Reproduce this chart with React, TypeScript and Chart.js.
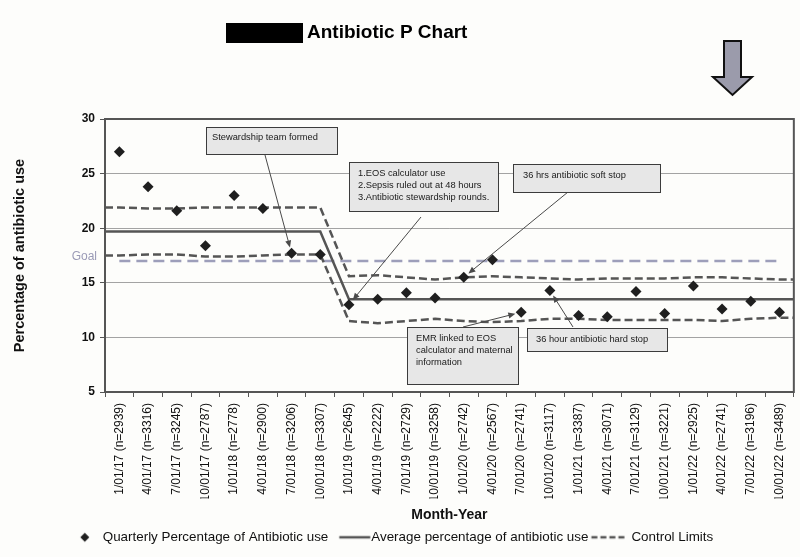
import React, { useEffect, useRef } from 'react';
import { Chart, registerables } from 'chart.js';

Chart.register(...registerables);

// ---------------- DATA ----------------
const categories = [
  '1/01/17 (n=2939)', '4/01/17 (n=3316)', '7/01/17 (n=3245)', '10/01/17 (n=2787)',
  '1/01/18 (n=2778)', '4/01/18 (n=2900)', '7/01/18 (n=3206)', '10/01/18 (n=3307)',
  '1/01/19 (n=2645)', '4/01/19 (n=2222)', '7/01/19 (n=2729)', '10/01/19 (n=3258)',
  '1/01/20 (n=2742)', '4/01/20 (n=2567)', '7/01/20 (n=2741)', '10/01/20 (n=3117)',
  '1/01/21 (n=3387)', '4/01/21 (n=3071)', '7/01/21 (n=3129)', '10/01/21 (n=3221)',
  '1/01/22 (n=2925)', '4/01/22 (n=2741)', '7/01/22 (n=3196)', '10/01/22 (n=3489)',
];

const quarterlyPct = [
  27.0, 23.8, 21.6, 18.4, 23.0, 21.8, 17.7, 17.6,
  13.0, 13.5, 14.1, 13.6, 15.5, 17.1, 12.3, 14.3,
  12.0, 11.9, 14.2, 12.2, 14.7, 12.6, 13.3, 12.3,
];

const averagePct = [
  19.7, 19.7, 19.7, 19.7, 19.7, 19.7, 19.7, 19.7,
  13.5, 13.5, 13.5, 13.5, 13.5, 13.5, 13.5, 13.5,
  13.5, 13.5, 13.5, 13.5, 13.5, 13.5, 13.5, 13.5,
];

const upperLimit = [
  21.9, 21.8, 21.8, 21.9, 21.9, 21.9, 21.9, 21.9,
  15.6, 15.7, 15.5, 15.3, 15.5, 15.6, 15.5, 15.4,
  15.3, 15.4, 15.4, 15.4, 15.5, 15.5, 15.4, 15.3,
];

const lowerLimit = [
  17.5, 17.6, 17.6, 17.4, 17.4, 17.5, 17.6, 17.6,
  11.5, 11.3, 11.5, 11.7, 11.5, 11.4, 11.5, 11.7,
  11.7, 11.6, 11.6, 11.6, 11.6, 11.5, 11.7, 11.8,
];

const GOAL = 17;
const Y_MIN = 5;
const Y_MAX = 30;
const Y_STEP = 5;

const legendLabels = [
  'Quarterly Percentage of Antibiotic use',
  'Average percentage of antibiotic use',
  'Control Limits',
];

// ---------------- STYLE ----------------
const FONT = '"Liberation Sans", Arial, Helvetica, sans-serif';
const DARK = '#555555';
const POINT = '#1f1f1f';
const GOAL_COLOR = '#9d9eba';
const LEGEND_FONT = 13.4;
const LEGEND_BOX = 4.3;
const LEGEND_PAD = 32;

const annotations = [
  { lines: ['Stewardship team formed'], box: [206, 127, 131, 27], textX: 212, textY: [137], from: [265, 155], target: 6 },
  { lines: ['1.EOS calculator use', '2.Sepsis ruled out at 48 hours', '3.Antibiotic stewardship rounds.'], box: [349, 162, 149, 49], textX: 358, textY: [173, 185, 197], from: [421, 217], target: 8 },
  { lines: ['36 hrs antibiotic soft stop'], box: [513, 164, 147, 28], textX: 523, textY: [175], from: [568, 192], target: 12 },
  { lines: ['EMR linked to EOS', 'calculator and maternal', 'information'], box: [407, 327, 111, 57], textX: 416, textY: [338, 350, 362], from: [463, 327], target: 14 },
  { lines: ['36 hour antibiotic hard stop'], box: [527, 328, 140, 23], textX: 536, textY: [339], from: [573, 327], target: 15 },
];

const lastIdx = categories.length - 1;
function edgeLine(values: number[]) {
  const pts = values.map((y, i) => ({ x: i, y }));
  return [{ x: -0.5, y: values[0] }, ...pts, { x: lastIdx + 0.5, y: values[lastIdx] }];
}

function legendImage(kind: 'diamond' | 'line' | 'dash'): HTMLCanvasElement {
  const W = 90, H = 14;
  const c = document.createElement('canvas');
  c.width = W; c.height = H;
  const g = c.getContext('2d')!;
  const textLocal = W / 2 + LEGEND_BOX / 2 + LEGEND_FONT / 2;
  const cy = H / 2;
  if (kind === 'diamond') {
    const cx = textLocal - 18, r = 4.5;
    g.fillStyle = POINT;
    g.beginPath();
    g.moveTo(cx, cy - r); g.lineTo(cx + r, cy); g.lineTo(cx, cy + r); g.lineTo(cx - r, cy);
    g.closePath(); g.fill();
  } else {
    g.strokeStyle = DARK;
    g.lineWidth = 2.5;
    if (kind === 'dash') g.setLineDash([6, 3]);
    g.beginPath();
    const x0 = kind === 'line' ? textLocal - 32 : textLocal - 40;
    const x1 = kind === 'line' ? textLocal - 1 : textLocal - 6;
    g.moveTo(x0, cy); g.lineTo(x1, cy);
    g.stroke();
  }
  return c;
}

const decorPlugin = {
  id: 'decor',
  beforeDraw(chart: any) {
    const { ctx, width, height } = chart;
    ctx.save();
    ctx.fillStyle = '#fdfdfb';
    ctx.fillRect(0, 0, width, height);
    ctx.restore();
  },
  beforeDatasetsDraw(chart: any) {
    const { ctx, chartArea: a } = chart;
    ctx.save();
    ctx.strokeStyle = DARK;
    ctx.lineWidth = 2;
    ctx.strokeRect(a.left, a.top, a.right - a.left, a.bottom - a.top);
    ctx.restore();
  },
  afterDatasetsDraw(chart: any) {
    const { ctx, chartArea: a } = chart;
    const xs = chart.scales.x;
    const ys = chart.scales.y;
    ctx.save();

    // Goal label
    ctx.font = `12px ${FONT}`;
    ctx.fillStyle = '#9a9ab6';
    ctx.textAlign = 'right';
    ctx.textBaseline = 'middle';
    ctx.fillText('Goal', a.left - 8, ys.getPixelForValue(GOAL) - 4);

    // annotations
    for (const an of annotations) {
      const [bx, by, bw, bh] = an.box;
      const tx = xs.getPixelForValue(an.target);
      const ty = ys.getPixelForValue(quarterlyPct[an.target]);
      const [fx, fy] = an.from;
      const dx = tx - fx, dy = ty - fy;
      const len = Math.hypot(dx, dy);
      const ux = dx / len, uy = dy / len;
      const tipX = tx - ux * 6, tipY = ty - uy * 6;
      ctx.strokeStyle = '#4a4a4a';
      ctx.fillStyle = '#4a4a4a';
      ctx.lineWidth = 1;
      ctx.beginPath();
      ctx.moveTo(fx, fy);
      ctx.lineTo(tipX - ux * 5, tipY - uy * 5);
      ctx.stroke();
      ctx.beginPath();
      ctx.moveTo(tipX, tipY);
      ctx.lineTo(tipX - ux * 7 - uy * 3, tipY - uy * 7 + ux * 3);
      ctx.lineTo(tipX - ux * 7 + uy * 3, tipY - uy * 7 - ux * 3);
      ctx.closePath();
      ctx.fill();

      ctx.fillStyle = '#e7e7e7';
      ctx.fillRect(bx, by, bw, bh);
      ctx.strokeStyle = '#3c3c3c';
      ctx.strokeRect(bx + 0.5, by + 0.5, bw, bh);
      ctx.fillStyle = '#1a1a1a';
      ctx.font = `9.3px ${FONT}`;
      ctx.textAlign = 'left';
      ctx.textBaseline = 'middle';
      an.lines.forEach((t, i) => ctx.fillText(t, an.textX, an.textY[i]));
    }

    // Title with redaction block
    ctx.fillStyle = '#000';
    ctx.fillRect(226, 23, 77, 20);
    ctx.font = `bold 19px ${FONT}`;
    ctx.textAlign = 'left';
    ctx.textBaseline = 'middle';
    ctx.fillStyle = '#000';
    ctx.fillText('Antibiotic P Chart', 307, 33);

    // Big down arrow
    ctx.beginPath();
    ctx.moveTo(724, 41); ctx.lineTo(741, 41); ctx.lineTo(741, 77); ctx.lineTo(752, 77);
    ctx.lineTo(732.5, 95); ctx.lineTo(713, 77); ctx.lineTo(724, 77); ctx.closePath();
    ctx.fillStyle = '#9b9bab';
    ctx.fill();
    ctx.strokeStyle = '#111';
    ctx.lineWidth = 2;
    ctx.lineJoin = 'miter';
    ctx.stroke();

    ctx.restore();
  },
};

export default function App() {
  const ref = useRef<HTMLCanvasElement>(null);
  useEffect(() => {
    const canvas = ref.current!;
    const legendItems = [
      { text: legendLabels[0], pointStyle: legendImage('diamond') },
      { text: legendLabels[1], pointStyle: legendImage('line') },
      { text: legendLabels[2], pointStyle: legendImage('dash') },
    ].map((it, i) => ({
      ...it,
      fillStyle: 'transparent',
      strokeStyle: 'transparent',
      lineWidth: 0,
      hidden: false,
      datasetIndex: i,
      fontColor: '#111',
    }));

    const chart = new Chart(canvas, {
      type: 'line',
      data: {
        labels: categories,
        datasets: [
          {
            label: legendLabels[0],
            data: quarterlyPct,
            xAxisID: 'x',
            yAxisID: 'y',
            showLine: false,
            pointStyle: 'rectRot',
            pointRadius: 5.5,
            pointBackgroundColor: POINT,
            pointBorderColor: POINT,
            pointBorderWidth: 0,
          },
          {
            label: legendLabels[1],
            data: edgeLine(averagePct),
            xAxisID: 'x2',
            yAxisID: 'y',
            borderColor: DARK,
            borderWidth: 2.5,
            pointRadius: 0,
            tension: 0,
          },
          {
            label: 'Upper Control Limit',
            data: edgeLine(upperLimit),
            xAxisID: 'x2',
            yAxisID: 'y',
            borderColor: DARK,
            borderWidth: 2.5,
            borderDash: [8, 4],
            pointRadius: 0,
            tension: 0,
          },
          {
            label: 'Lower Control Limit',
            data: edgeLine(lowerLimit),
            xAxisID: 'x2',
            yAxisID: 'y',
            borderColor: DARK,
            borderWidth: 2.5,
            borderDash: [8, 4],
            pointRadius: 0,
            tension: 0,
          },
          {
            label: 'Goal',
            data: categories.map((_, i) => ({ x: i, y: GOAL })),
            xAxisID: 'x2',
            yAxisID: 'y',
            borderColor: GOAL_COLOR,
            borderWidth: 2.5,
            borderDash: [11, 6],
            pointRadius: 0,
            tension: 0,
          },
        ] as any,
      },
      options: {
        animation: false,
        responsive: false,
        devicePixelRatio: 1,
        events: [],
        layout: { padding: { top: 119, left: 8, right: 3, bottom: 3 } },
        scales: {
          x: {
            type: 'category',
            offset: true,
            grid: { display: true, drawOnChartArea: false, drawTicks: true, tickLength: 5, offset: true, color: DARK, lineWidth: 1 },
            border: { display: true, color: DARK, width: 2 },
            ticks: { autoSkip: false, minRotation: 90, maxRotation: 90, padding: 6, color: '#111', font: { family: FONT, size: 12 } },
            title: { display: true, text: 'Month-Year', color: '#111', font: { family: FONT, size: 14, weight: 'bold' }, padding: { top: 0, bottom: -25.4 } },
            afterFit: (s: any) => { s.height = 106.6; },
          },
          x2: { type: 'linear', display: false, min: -0.5, max: lastIdx + 0.5 },
          y: {
            min: Y_MIN,
            max: Y_MAX,
            ticks: { stepSize: Y_STEP, padding: 5, color: '#111', font: { family: FONT, size: 12, weight: 'bold' } },
            grid: { color: '#a3a3a3', lineWidth: 1, tickLength: 5, tickColor: DARK },
            border: { display: true, color: DARK, width: 2 },
            title: { display: true, text: 'Percentage of antibiotic use', color: '#111', font: { family: FONT, size: 14.5, weight: 'bold' }, padding: { top: 3, bottom: 0 } },
            afterFit: (s: any) => { s.width = 97; },
          },
        } as any,
        plugins: {
          title: { display: false },
          tooltip: { enabled: false },
          legend: {
            display: true,
            position: 'bottom',
            labels: {
              usePointStyle: true,
              pointStyleWidth: LEGEND_BOX,
              boxHeight: LEGEND_FONT,
              padding: LEGEND_PAD,
              color: '#111',
              font: { family: FONT, size: LEGEND_FONT },
              generateLabels: () => legendItems as any,
            },
          },
        },
      },
      plugins: [decorPlugin],
    });
    return () => chart.destroy();
  }, []);

  return (
    <div style={{ position: 'fixed', left: 0, top: 0, width: 800, height: 557 }}>
      <canvas ref={ref} width={800} height={557} style={{ display: 'block', width: 800, height: 557 }} />
    </div>
  );
}
